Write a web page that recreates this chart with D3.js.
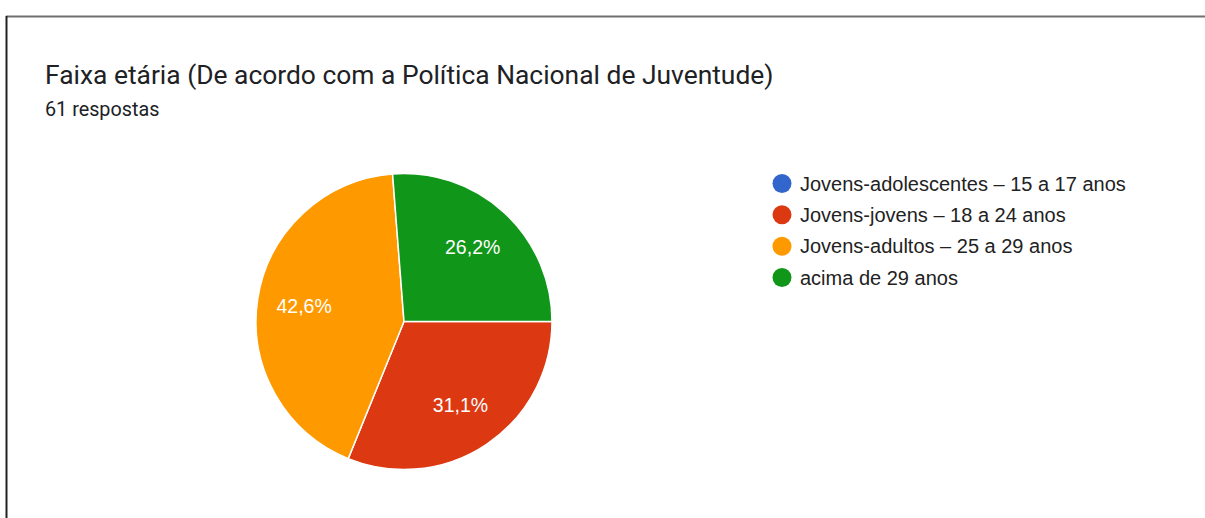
<!DOCTYPE html>
<html><head><meta charset="utf-8">
<script src="https://cdn.jsdelivr.net/npm/d3@7"></script>
<style>body{margin:0;background:#fff;} svg{display:block;}</style>
</head><body>
<script>
const title = "Faixa etária (De acordo com a Política Nacional de Juventude)";
const subtitle = "61 respostas";
const categories = ["Jovens-adolescentes – 15 a 17 anos","Jovens-jovens – 18 a 24 anos","Jovens-adultos – 25 a 29 anos","acima de 29 anos"];
const values = [0, 19, 26, 16];
const colors = ["#3366cc","#dc3912","#ff9900","#109618"];

const W = 1205, H = 518;
const svg = d3.select("body").append("svg").attr("width", W).attr("height", H);
svg.append("rect").attr("width", W).attr("height", H).attr("fill", "#fff");
// card border
svg.append("line").attr("x1", 6).attr("x2", W).attr("y1", 16.5).attr("y2", 16.5).attr("stroke", "#707070").attr("stroke-width", 2);
svg.append("line").attr("x1", 6.5).attr("x2", 6.5).attr("y1", 16).attr("y2", H).attr("stroke", "#222").attr("stroke-width", 2);

svg.append("text").attr("x", 45).attr("y", 84).attr("font-family", "Roboto, Arial, sans-serif").attr("font-size", 26.4).attr("fill", "#202124").text(title);
svg.append("text").attr("x", 45).attr("y", 116).attr("font-family", "Roboto, Arial, sans-serif").attr("font-size", 19.8).attr("fill", "#202124").text(subtitle);

const cx = 404, cy = 321.5, r = 148;
const total = d3.sum(values);
const pie = d3.pie().sort(null).value(d => d).startAngle(Math.PI/2).endAngle(Math.PI/2 + 2*Math.PI);
const arcs = pie(values);
const arc = d3.arc().innerRadius(0).outerRadius(r);
const g = svg.append("g").attr("transform", `translate(${cx},${cy})`);
g.selectAll("path").data(arcs).join("path")
  .attr("d", arc).attr("fill", (d,i) => colors[i])
  .attr("stroke", "#fff").attr("stroke-width", d => d.value > 0 ? 1.5 : 0);
const labelArc = d3.arc().innerRadius(r*0.683).outerRadius(r*0.683);
const fmt = v => (v/total*100).toFixed(1).replace(".", ",") + "%";
g.selectAll("text").data(arcs.filter(d => d.value > 0)).join("text")
  .attr("transform", d => `translate(${labelArc.centroid(d)})`)
  .attr("text-anchor", "middle").attr("dy", "0.35em")
  .attr("font-family", "Arial, 'Liberation Sans', sans-serif").attr("font-size", 19.5)
  .attr("fill", "#fff").text(d => fmt(d.value));

const y = d3.scalePoint().domain(categories).range([183.5, 277.5]);
const leg = svg.append("g");
leg.selectAll("circle").data(categories).join("circle")
  .attr("cx", 782).attr("cy", d => y(d)).attr("r", 9.5).attr("fill", (d,i) => colors[i]);
leg.selectAll("text").data(categories).join("text")
  .attr("x", 800).attr("y", d => y(d)).attr("dy", "0.35em")
  .attr("font-family", "Arial, 'Liberation Sans', sans-serif").attr("font-size", 20)
  .attr("fill", "#222").text(d => d);
</script>
</body></html>
